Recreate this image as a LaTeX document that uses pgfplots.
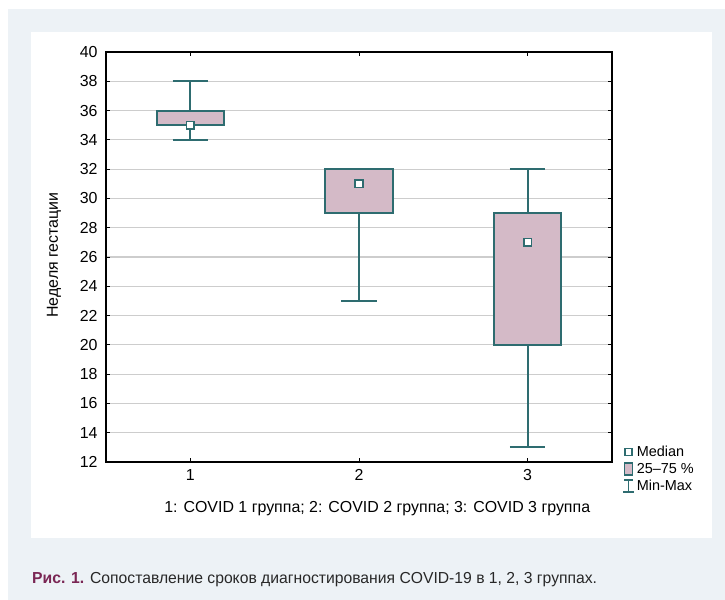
\documentclass[border=0pt]{standalone}
\usepackage{pgfplots}
\pgfplotsset{compat=1.18}
\usepackage{fontspec}
\setmainfont{Liberation Sans}
\definecolor{bgc}{RGB}{237,242,246}
\definecolor{boxfill}{RGB}{212,186,199}
\definecolor{edge}{RGB}{46,108,112}
\definecolor{capred}{RGB}{122,38,84}
\definecolor{capgray}{RGB}{40,40,40}
\definecolor{gridc}{RGB}{205,205,205}
\begin{document}
\begin{tikzpicture}[x=1bp,y=1bp]
\fill[white] (0,0) rectangle (725,-600);
\fill[bgc] (8,-9) rectangle (725,-600);
\fill[white] (31,-32) rectangle (712,-538);
\begin{axis}[
 at={(106bp,-462bp)}, anchor=south west,
 scale only axis, width=506bp, height=410bp,
 xmin=0.5, xmax=3.5, ymin=12, ymax=40,
 xtick={1,2,3}, ytick={12,14,...,40},
 ymajorgrids, grid style={gridc, line width=1.2bp},
 axis line style={black, line width=1.1bp},
 tick style={black, line width=0.8bp},
 major tick length=4bp,
 tick label style={font=\fontsize{16}{19}\selectfont},
 yticklabel style={xshift=-5bp},
 xticklabel style={yshift=-4bp},
 /pgf/number format/assume math mode=true,
 xlabel={1: COVID 1 группа; 2: COVID 2 группа; 3: COVID 3 группа},
 ylabel={Неделя гестации},
 label style={font=\fontsize{16}{19}\selectfont},
 xlabel style={at={(axis description cs:0.536,0)}, anchor=center, yshift=-47bp},
 ylabel style={at={(axis description cs:-0.103,0.505)}, anchor=center},
 legend style={at={(1,0)}, anchor=north west, xshift=10bp, yshift=18bp, draw=none, fill=none,
   font=\fontsize{14.5}{16}\selectfont, row sep=1bp, inner sep=0pt,
   nodes={inner sep=2bp}},
 legend cell align=left,
]
\addlegendimage{legend image code/.code={\draw[fill=white, draw=edge, line width=1.6bp] (1bp,-3.5bp) rectangle (8bp,3.5bp);}}
\addlegendentry{Median}
\addlegendimage{legend image code/.code={\draw[fill=boxfill, draw=edge, line width=1.6bp] (0.5bp,-6bp) rectangle (8.5bp,6bp);}}
\addlegendentry{25–75 \%}
\addlegendimage{legend image code/.code={\draw[edge, line width=1.6bp] (-1bp,-6bp)--(10bp,-6bp) (4.5bp,-6bp)--(4.5bp,6bp) (0bp,6bp)--(9bp,6bp);}}
\addlegendentry{Min-Max}
% whiskers
\addplot[edge, line width=2bp, forget plot, unbounded coords=jump] coordinates {
 (1,36) (1,38) (1,nan) (0.895,38) (1.105,38) (1,nan) (1,35) (1,34) (1,nan) (0.895,34) (1.105,34)};
\addplot[edge, line width=2bp, forget plot, unbounded coords=jump] coordinates {
 (2,32) (2,32) (2,nan) (1.895,32) (2.105,32) (2,nan) (2,29) (2,23) (2,nan) (1.895,23) (2.105,23)};
\addplot[edge, line width=2bp, forget plot, unbounded coords=jump] coordinates {
 (3,29) (3,32) (3,nan) (2.895,32) (3.105,32) (3,nan) (3,20) (3,13) (3,nan) (2.895,13) (3.105,13)};
% boxes (25-75 %)
\addplot[draw=edge, fill=boxfill, line width=2bp, forget plot] coordinates {(0.8,35) (1.2,35) (1.2,36) (0.8,36)} --cycle;
\addplot[draw=edge, fill=boxfill, line width=2bp, forget plot] coordinates {(1.8,29) (2.2,29) (2.2,32) (1.8,32)} --cycle;
\addplot[draw=edge, fill=boxfill, line width=2bp, forget plot] coordinates {(2.8,20) (3.2,20) (3.2,29) (2.8,29)} --cycle;
% medians
\addplot[forget plot, only marks, mark=square*, mark size=3.8bp, mark options={fill=white, draw=edge, line width=1.8bp}] coordinates {(1,35) (2,31) (3,27)};
\end{axis}
\node[anchor=base west, inner sep=0pt] at (32,-583) {\scalebox{0.985}[1]{\fontsize{16}{19}\selectfont\textcolor{capred}{\textbf{Рис. 1.}} \textcolor{capgray}{Сопоставление сроков диагностирования COVID-19 в 1, 2, 3 группах.}}};
\end{tikzpicture}
\end{document}
